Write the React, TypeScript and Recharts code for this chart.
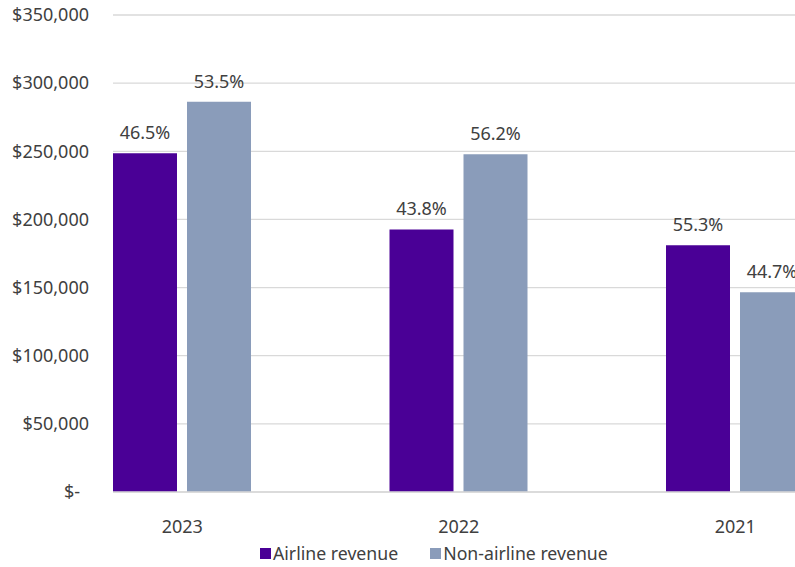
import { BarChart, Bar, XAxis, YAxis, CartesianGrid, Legend, LabelList } from "recharts";

// revenue by fiscal year
const years = ["2023", "2022", "2021"];
const airlineRevenue = [248500, 192700, 181000];
const nonAirlineRevenue = [286400, 247800, 146500];
const airlinePct = ["46.5%", "43.8%", "55.3%"];
const nonAirlinePct = ["53.5%", "56.2%", "44.7%"];
const yTicks = [0, 50000, 100000, 150000, 200000, 250000, 300000, 350000];

const data = years.map((year, i) => ({
  year,
  airline: airlineRevenue[i],
  nonAirline: nonAirlineRevenue[i],
  airlinePct: airlinePct[i],
  nonAirlinePct: nonAirlinePct[i],
}));

const FONT = "'Noto Sans', 'Open Sans', sans-serif";
const TEXT = "#404040";
const AIRLINE = "#4A0096";
const NON_AIRLINE = "#8A9CBA";

const money = (v: number) => (v === 0 ? "$-" : "$" + v.toLocaleString("en-US"));

const YTick = (props: any) => {
  const { y, payload } = props;
  const zero = payload.value === 0;
  return (
    <text x={zero ? 80 : 89} y={y} dy="0.35em" textAnchor="end" fill={TEXT} fontSize={18} fontFamily={FONT}>
      {money(payload.value)}
    </text>
  );
};

const XTick = (props: any) => {
  const { x, y, payload } = props;
  return (
    <text x={x} y={y + 20} dy="0.71em" textAnchor="middle" fill={TEXT} fontSize={18} fontFamily={FONT}>
      {payload.value}
    </text>
  );
};

const PctLabel = (props: any) => {
  const { x, y, width, value } = props;
  return (
    <text x={x + width / 2} y={y - 14} textAnchor="middle" fill={TEXT} fontSize={18} fontFamily={FONT}>
      {value}
    </text>
  );
};

const LegendContent = (props: any) => {
  const { payload } = props;
  return (
    <div style={{ display: "flex", gap: 32, paddingLeft: 260, fontFamily: FONT, fontSize: 17.7, color: TEXT }}>
      {payload.map((p: any) => (
        <div key={p.value} style={{ display: "flex", alignItems: "center", gap: 2, height: 22 }}>
          <span style={{ width: 11, height: 11, background: p.color, display: "inline-block" }} />
          <span>{p.value}</span>
        </div>
      ))}
    </div>
  );
};

export default function App() {
  return (
    <div style={{ position: "fixed", left: 0, top: 0, width: 795, height: 567, overflow: "hidden", background: "#fff" }}>
      <BarChart
        width={900}
        height={567}
        data={data}
        margin={{ top: 15, right: 26.5, bottom: 35, left: 0 }}
        barGap={10}
      >
        <CartesianGrid horizontal vertical={false} stroke="#d9d9d9" strokeWidth={1.3} />
        <XAxis
          dataKey="year"
          height={40}
          padding={{ left: -69, right: 0 }}
          axisLine={{ stroke: "#d9d9d9", strokeWidth: 1.3 }}
          tickLine={false}
          tick={<XTick />}
        />
        <YAxis
          width={113}
          domain={[0, 350000]}
          ticks={yTicks}
          axisLine={false}
          tickLine={false}
          tick={<YTick />}
          interval={0}
        />
        <Legend verticalAlign="middle" align="center" wrapperStyle={{ left: 0, top: 542, width: 900 }} content={<LegendContent />} />
        <Bar dataKey="airline" name="Airline revenue" fill={AIRLINE} barSize={64} isAnimationActive={false}>
          <LabelList dataKey="airlinePct" content={<PctLabel />} />
        </Bar>
        <Bar dataKey="nonAirline" name="Non-airline revenue" fill={NON_AIRLINE} barSize={64} isAnimationActive={false}>
          <LabelList dataKey="nonAirlinePct" content={<PctLabel />} />
        </Bar>
      </BarChart>
    </div>
  );
}
